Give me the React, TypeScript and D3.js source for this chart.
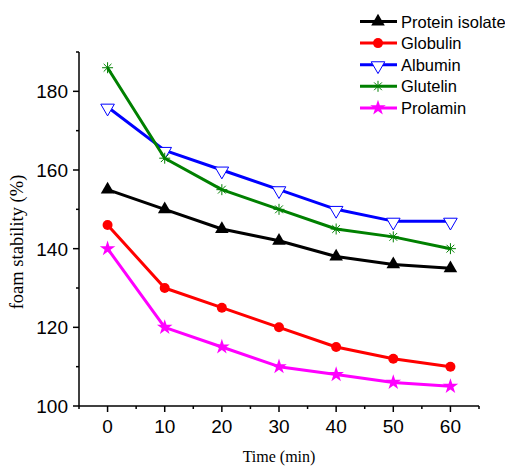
import React from "react";
import * as d3 from "d3";

const times = [0, 10, 20, 30, 40, 50, 60];
const seriesNames = ["Protein isolate", "Globulin", "Albumin", "Glutelin", "Prolamin"];
const seriesColors = ["#000000", "#ff0000", "#0000ff", "#008000", "#ff00ff"];
const seriesMarkers = ["triangle", "circle", "triangleDown", "asterisk", "star"];
const proteinIsolate = [155, 150, 145, 142, 138, 136, 135];
const globulin = [146, 130, 125, 120, 115, 112, 110];
const albumin = [176, 165, 160, 155, 150, 147, 147];
const glutelin = [186, 163, 155, 150, 145, 143, 140];
const prolamin = [140, 120, 115, 110, 108, 106, 105];
const seriesValues = [proteinIsolate, globulin, albumin, glutelin, prolamin];
const xTicks = [0, 10, 20, 30, 40, 50, 60];
const yTicks = [100, 120, 140, 160, 180];

const W = 505, H = 466;
const margin = { left: 79, right: 26, top: 52, bottom: 60 };

const x = d3.scaleLinear().domain([-5, 65]).range([margin.left, W - margin.right]);
const y = d3.scaleLinear().domain([100, 190]).range([H - margin.bottom, margin.top]);

function Marker({ type, cx, cy, color }: { type: string; cx: number; cy: number; color: string }) {
  if (type === "triangle") {
    const p = d3.symbol(d3.symbolTriangle, 80)();
    return <path d={p!} transform={`translate(${cx},${cy})`} fill={color} />;
  }
  if (type === "circle") return <circle cx={cx} cy={cy} r={5} fill={color} />;
  if (type === "triangleDown") {
    const p = d3.symbol(d3.symbolTriangle, 80)();
    return <path d={p!} transform={`translate(${cx},${cy + 1}) rotate(180)`} fill="#fff" stroke={color} strokeWidth={1} />;
  }
  if (type === "asterisk") {
    const r = 5.5;
    const lines = [0, 45, 90, 135].map(a => {
      const rad = (a * Math.PI) / 180;
      return <line key={a} x1={cx - r * Math.cos(rad)} y1={cy - r * Math.sin(rad)} x2={cx + r * Math.cos(rad)} y2={cy + r * Math.sin(rad)} stroke={color} strokeWidth={1} />;
    });
    return <g>{lines}</g>;
  }
  const p = d3.symbol(d3.symbolStar, 75)();
  return <path d={p!} transform={`translate(${cx},${cy})`} fill={color} />;
}

export default function App() {
  const line = d3.line<number>().x((_, i) => x(times[i])).y(d => y(d));
  const x0 = x.range()[0], x1 = x.range()[1];
  const y0 = y.range()[0], y1 = y.range()[1];
  const xMinor = d3.range(-5, 66, 5);
  const yMinor = d3.range(100, 191, 10);

  return (
    <svg width={W} height={H} style={{ position: "absolute", left: 0, top: 0 }}>
      <rect width={W} height={H} fill="#fff" />
      {/* axes */}
      <g stroke="#000" strokeWidth={1.5}>
        <line x1={x0} x2={x1} y1={y0} y2={y0} />
        <line x1={x0} x2={x0} y1={y0} y2={y1} />
        {xMinor.map(t => (
          <line key={t} x1={x(t)} x2={x(t)} y1={y0} y2={y0 + (t % 10 === 0 ? 6 : 3)} />
        ))}
        {yMinor.map(t => (
          <line key={t} x1={x0} x2={x0 - (t % 20 === 0 ? 6 : 3)} y1={y(t)} y2={y(t)} />
        ))}
      </g>
      <g fontFamily="Liberation Sans, Arial, sans-serif" fontSize={19} fill="#000">
        {xTicks.map(t => (
          <text key={t} x={x(t)} y={y0 + 27} textAnchor="middle">{t}</text>
        ))}
        {yTicks.map(t => (
          <text key={t} x={x0 - 11} y={y(t) + 7} textAnchor="end">{t}</text>
        ))}
      </g>
      <text x={(x0 + x1) / 2} y={H - 4} textAnchor="middle" fontFamily="Liberation Serif, Times New Roman, serif" fontSize={16}>Time (min)</text>
      <text transform={`translate(23,${242}) rotate(-90)`} textAnchor="middle" fontFamily="Liberation Serif, Times New Roman, serif" fontSize={18.5}>foam stability (%)</text>
      {/* series */}
      {seriesValues.map((vals, s) => (
        <g key={seriesNames[s]}>
          <path d={line(vals)!} fill="none" stroke={seriesColors[s]} strokeWidth={3} strokeLinejoin="round" />
          {vals.map((v, i) => (
            <Marker key={i} type={seriesMarkers[s]} cx={x(times[i])} cy={y(v)} color={seriesColors[s]} />
          ))}
        </g>
      ))}
      {/* legend */}
      <g>
        {seriesNames.map((name, s) => {
          const ly = 21.5 + s * 21.6;
          return (
            <g key={name}>
              <line x1={360} x2={397} y1={ly} y2={ly} stroke={seriesColors[s]} strokeWidth={3} />
              <Marker type={seriesMarkers[s]} cx={378} cy={ly} color={seriesColors[s]} />
              <text x={401} y={ly + 6} fontFamily="Liberation Sans, Arial, sans-serif" fontSize={16.5}>{name}</text>
            </g>
          );
        })}
      </g>
    </svg>
  );
}
